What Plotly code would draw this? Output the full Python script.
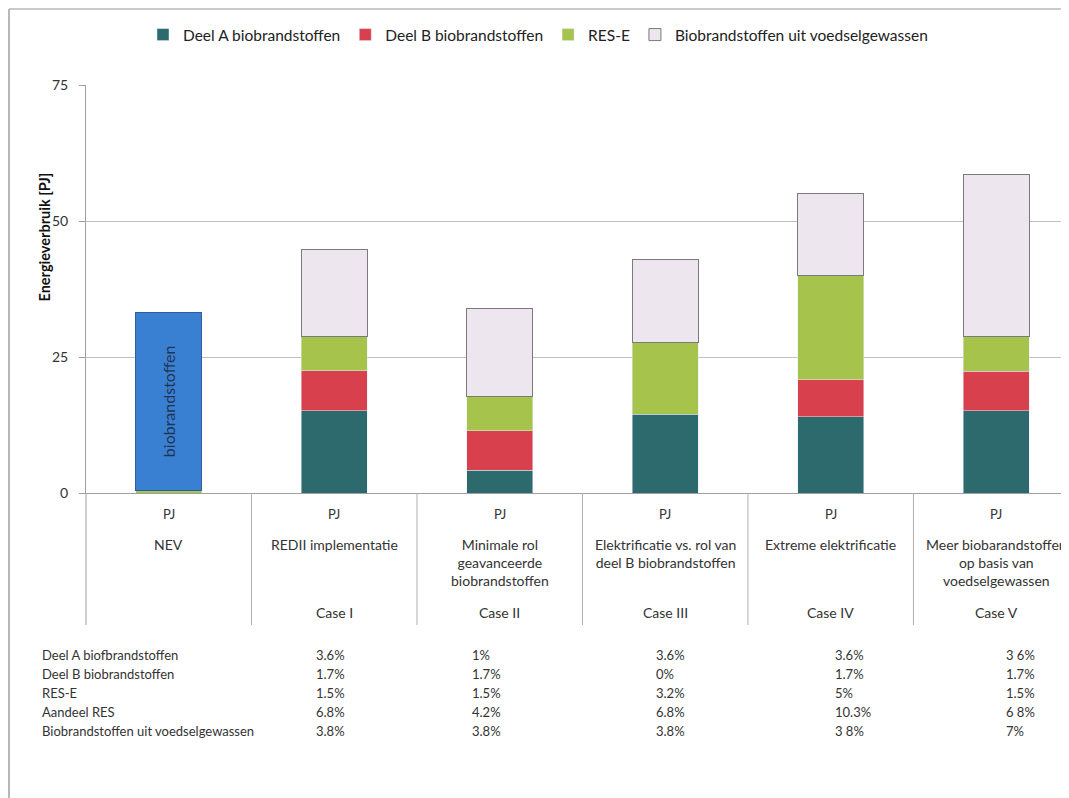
import plotly.graph_objects as go

cats = ["NEV", "Case I", "Case II", "Case III", "Case IV", "Case V"]
cat_desc = ["NEV", "REDII implementatie", "Minimale rol<br>geavanceerde<br>biobrandstoffen",
            "Elektrificatie vs. rol van<br>deel B biobrandstoffen", "Extreme elektrificatie",
            "Meer biobarandstoffen<br>op basis van<br>voedselgewassen"]
case_lbl = ["", "Case I", "Case II", "Case III", "Case IV", "Case V"]

deel_a = [None, 15.1, 4.2, 14.5, 14.0, 15.1]
deel_b = [None, 7.4, 7.2, None, 6.8, 7.3]
res_e = [0.5, 6.2, 6.4, 13.1, 19.2, 6.4]
voedsel = [None, 16.1, 16.1, 15.3, 15.0, 29.7]
nev_bio = [32.7, None, None, None, None, None]

row_labels = ["Deel A biofbrandstoffen", "Deel B biobrandstoffen", "RES-E", "Aandeel RES",
              "Biobrandstoffen uit voedselgewassen"]
pct_table = [
    ["3.6%", "1%", "3.6%", "3.6%", "3 6%"],
    ["1.7%", "1.7%", "0%", "1.7%", "1.7%"],
    ["1.5%", "1.5%", "3.2%", "5%", "1.5%"],
    ["6.8%", "4.2%", "6.8%", "10.3%", "6 8%"],
    ["3.8%", "3.8%", "3.8%", "3 8%", "7%"],
]

FONT = "Lato"
O = 8  # page body margin
W, H = 1069 - O, 798 - O
L, T = 86 - O, 85 - O
BOT = 493 - O
B = H - BOT
PH = BOT - T
PW = W - L

def py(pix):  # window pixel -> paper y
    return (BOT - (pix - O)) / PH

def px(pix):  # window pixel -> paper x
    return ((pix - O) - L) / PW

xs = list(range(len(cats)))
fig = go.Figure()
bw = 0.4
fig.add_trace(go.Bar(x=xs, y=deel_a, name="Deel A biobrandstoffen", marker_color="#2C6A6E", width=bw))
fig.add_trace(go.Bar(x=xs, y=deel_b, name="Deel B biobrandstoffen", marker_color="#D9404E", width=bw))
fig.add_trace(go.Bar(x=xs, y=res_e, name="RES-E", marker_color="#A6C44B", width=bw))
fig.add_trace(go.Bar(x=xs, y=voedsel, name="Biobrandstoffen uit voedselgewassen", marker_color="#EEE6EF",
                     marker_line=dict(color="#7A7A7A", width=1), width=bw))
fig.add_trace(go.Bar(x=xs, y=nev_bio, name="biobrandstoffen", marker_color="#3A80D2",
                     marker_line=dict(color="#2F5F9A", width=1), width=bw, showlegend=False,
                     text=["biobrandstoffen", "", "", "", "", ""], textposition="inside",
                     insidetextanchor="middle", textangle=-90,
                     textfont=dict(family=FONT, size=16, color="#1F3552"), constraintext="none"))

fig.update_layout(
    barmode="stack", width=W, height=H,
    margin=dict(l=L, r=0, t=T, b=B),
    paper_bgcolor="white", plot_bgcolor="white",
    font=dict(family=FONT, size=12, color="#333333"),
    showlegend=True,
    legend=dict(orientation="h", x=px(143), y=py(35), xanchor="left", yanchor="middle",
                font=dict(family=FONT, size=15.5, color="#222222"), traceorder="normal",
                itemwidth=30, bgcolor="rgba(0,0,0,0)"),
)
fig.update_xaxes(range=[-0.5, 5.44], showticklabels=False, showgrid=False, zeroline=False,
                 showline=True, linecolor="#A0A0A0", linewidth=1, fixedrange=True)
fig.update_yaxes(range=[0, 75], tickvals=[0, 25, 50, 75], showgrid=True, gridcolor="#BEBEBE",
                 gridwidth=1, zeroline=False, showline=True, linecolor="#A0A0A0", linewidth=1,
                 ticks="outside", ticklen=6, tickcolor="#A0A0A0", ticklabelstandoff=8,
                 tickfont=dict(family=FONT, size=14, color="#333333"))

ann = []
ann.append(dict(text="<b>Energieverbruik [PJ]</b>", xref="paper", yref="paper", x=px(33), y=py(237),
                textangle=-90, yanchor="middle", showarrow=False,
                font=dict(family=FONT, size=14.5, color="#111111")))
for i in range(len(cats)):
    ann.append(dict(text="PJ", xref="x", yref="paper", x=i, y=py(514), yanchor="middle", showarrow=False,
                    font=dict(family=FONT, size=13, color="#333333")))
    ann.append(dict(text=cat_desc[i], xref="x", yref="paper", x=i, y=py(534), yanchor="top",
                    showarrow=False, font=dict(family=FONT, size=14, color="#333333")))
    if case_lbl[i]:
        ann.append(dict(text=case_lbl[i], xref="x", yref="paper", x=i, y=py(612), yanchor="middle",
                        showarrow=False, font=dict(family=FONT, size=14, color="#333333")))
row_y = [655, 674, 693, 712, 731]
col_x = [314, 470, 654, 833, 1004]
for r, lbl in enumerate(row_labels):
    ann.append(dict(text=lbl, xref="paper", yref="paper", x=px(40), y=py(row_y[r]), xanchor="left",
                    yanchor="middle", showarrow=False, font=dict(family=FONT, size=13, color="#333333")))
    for c in range(5):
        ann.append(dict(text=pct_table[r][c], xref="paper", yref="paper", x=px(col_x[c]), y=py(row_y[r]),
                        xanchor="left", yanchor="middle", showarrow=False,
                        font=dict(family=FONT, size=13, color="#333333")))
fig.update_layout(annotations=ann)

shapes = []
for k in range(1, 6):
    shapes.append(dict(type="line", xref="x", yref="paper", x0=k - 0.5, x1=k - 0.5, y0=0, y1=py(625),
                       line=dict(color="#B0B0B0", width=1)))
shapes.append(dict(type="line", xref="paper", yref="paper", x0=0, x1=0, y0=0, y1=py(625),
                   line=dict(color="#A0A0A0", width=1)))
shapes.append(dict(type="line", xref="paper", yref="paper", x0=px(9), x1=px(9), y0=py(9), y1=py(798),
                   line=dict(color="#B8B8B8", width=2)))
shapes.append(dict(type="line", xref="paper", yref="paper", x0=px(9), x1=1, y0=py(9), y1=py(9),
                   line=dict(color="#B8B8B8", width=1.5)))
fig.update_layout(shapes=shapes)

fig.write_html("out.html")
